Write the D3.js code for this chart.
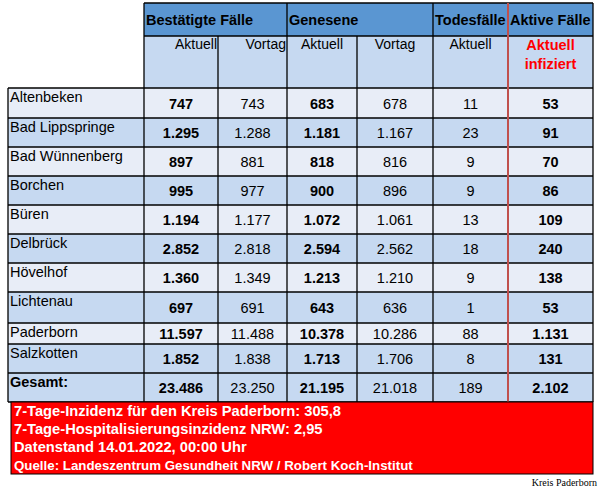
<!DOCTYPE html>
<html><head><meta charset="utf-8">
<script src="https://cdn.jsdelivr.net/npm/d3@7"></script>
<style>html,body{margin:0;padding:0;background:#fff}svg{display:block}</style>
</head><body>
<svg id="c" width="607" height="490"></svg>
<script>
// ---- data ----
const towns = ["Altenbeken","Bad Lippspringe","Bad Wünnenberg","Borchen","Büren","Delbrück","Hövelhof","Lichtenau","Paderborn","Salzkotten","Gesamt:"];
const confirmedNow  = [747,1295,897,995,1194,2852,1360,697,11597,1852,23486];
const confirmedPrev = [743,1288,881,977,1177,2818,1349,691,11488,1838,23250];
const recoveredNow  = [683,1181,818,900,1072,2594,1213,643,10378,1713,21195];
const recoveredPrev = [678,1167,816,896,1061,2562,1210,636,10286,1706,21018];
const deaths        = [11,23,9,9,13,18,9,1,88,8,189];
const activeNow     = [53,91,70,86,109,240,138,53,1131,131,2102];
const groupLabels = ["Bestätigte Fälle","Genesene","Todesfälle","Aktive Fälle"];
const subLabels = ["Aktuell","Vortag","Aktuell","Vortag","Aktuell"];
const activeSub = ["Aktuell","infiziert"];
const infoLines = ["7-Tage-Inzidenz für den Kreis Paderborn: 305,8","7-Tage-Hospitalisierungsinzidenz NRW: 2,95","Datenstand 14.01.2022, 00:00 Uhr","Quelle: Landeszentrum Gesundheit NRW / Robert Koch-Institut"];
const credit = "Kreis Paderborn";

// ---- layout ----
const colKeys = ["name","cNow","cPrev","rNow","rPrev","deaths","active","end"];
const colX = d3.scaleOrdinal().domain(colKeys).range([8,144,218,287,357,433,508,593]);
const rowEdges = [88,118,147,176,205,234,263,292,323,344,373,402];
const rowY = d3.scaleOrdinal().domain(d3.range(rowEdges.length)).range(rowEdges);
const C = {dark:"#5a96d2", mid:"#c6d9f1", light:"#e8edf7", red:"#c0504d"};
const fmt = d3.formatLocale({decimal:",",thousands:".",grouping:[3],currency:["","€"]}).format(",d");
const font = "'Liberation Sans', Arial, sans-serif";

const svg = d3.select("#c");
const cols = [
  {key:"cNow", vals:confirmedNow, bold:true},
  {key:"cPrev", vals:confirmedPrev, bold:false},
  {key:"rNow", vals:recoveredNow, bold:true},
  {key:"rPrev", vals:recoveredPrev, bold:false},
  {key:"deaths", vals:deaths, bold:false},
  {key:"active", vals:activeNow, bold:true}
];
const nextKey = k => colKeys[colKeys.indexOf(k)+1];
const X0 = colX("cNow"), X1 = colX("end");

// header backgrounds
svg.append("rect").attr("x",X0).attr("y",3).attr("width",X1-X0).attr("height",33).attr("fill",C.dark);
svg.append("rect").attr("x",X0).attr("y",36).attr("width",X1-X0).attr("height",rowY(0)-36).attr("fill",C.mid);

// body rows
const n = towns.length;
const rows = svg.append("g").selectAll("g").data(towns).join("g");
rows.append("rect")
  .attr("x",colX("name")).attr("y",(d,i)=>rowY(i))
  .attr("width",X1-colX("name")).attr("height",(d,i)=>rowY(i+1)-rowY(i))
  .attr("fill",(d,i)=> (i===n-1 || i%2===1) ? C.mid : C.light);
rows.append("text")
  .attr("x",colX("name")+2).attr("y",(d,i)=>rowY(i)+14)
  .attr("font-family",font).attr("font-size",14.5)
  .attr("font-weight",(d,i)=> i===n-1?"bold":"normal")
  .text(d=>d);
cols.forEach(c=>{
  const cx = (colX(c.key)+colX(nextKey(c.key)))/2;
  rows.append("text")
    .attr("x",cx).attr("y",(d,i)=>(rowY(i)+rowY(i+1))/2+5.5)
    .attr("text-anchor","middle").attr("font-family",font).attr("font-size",14.5)
    .attr("font-weight",c.bold?"bold":"normal")
    .text((d,i)=>fmt(c.vals[i]));
});

// grid lines
const lines = svg.append("g").attr("stroke","#000").attr("stroke-width",1.3);
d3.range(0,n+1).forEach(i=>{
  lines.append("line").attr("x1",colX("name")).attr("x2",X1).attr("y1",rowY(i)).attr("y2",rowY(i));
});
lines.append("line").attr("x1",X0).attr("x2",X1).attr("y1",3).attr("y2",3);
lines.append("line").attr("x1",X0).attr("x2",X1).attr("y1",36).attr("y2",36);
lines.append("line").attr("x1",colX("name")).attr("x2",colX("name")).attr("y1",rowY(0)).attr("y2",rowY(n));
[["cNow",3],["cPrev",36],["rNow",3],["rPrev",36],["deaths",3],["end",3]].forEach(([k,y0])=>{
  lines.append("line").attr("x1",colX(k)).attr("x2",colX(k)).attr("y1",y0).attr("y2",rowY(n));
});
svg.append("line").attr("x1",colX("active")).attr("x2",colX("active")).attr("y1",3).attr("y2",rowY(n))
  .attr("stroke",C.red).attr("stroke-width",2);

// header texts
const groupStart = ["cNow","rNow","deaths","active"];
groupLabels.forEach((g,i)=>{
  svg.append("text").attr("x",colX(groupStart[i])+2).attr("y",25)
    .attr("font-family",font).attr("font-size",14.5).attr("font-weight","bold").text(g);
});
const subAlign = [["cNow","end"],["cPrev","end"],["rNow","middle"],["rPrev","middle"],["deaths","middle"]];
subLabels.forEach((s,i)=>{
  const [k,a] = subAlign[i];
  const x = a==="end" ? colX(nextKey(k))-1 : (colX(k)+colX(nextKey(k)))/2;
  svg.append("text").attr("x",x).attr("y",49).attr("text-anchor",a)
    .attr("font-family",font).attr("font-size",14).text(s);
});
activeSub.forEach((s,i)=>{
  svg.append("text").attr("x",(colX("active")+X1)/2).attr("y",50+i*18.5).attr("text-anchor","middle")
    .attr("font-family",font).attr("font-size",14.5).attr("font-weight","bold").attr("fill","#ff0000").text(s);
});

// info box
svg.append("rect").attr("x",11).attr("y",rowY(n)).attr("width",X1-11).attr("height",474-rowY(n))
  .attr("fill","#ff0000").attr("stroke","#000").attr("stroke-width",1);
infoLines.forEach((t,i)=>{
  svg.append("text").attr("x",14).attr("y",416+i*18)
    .attr("font-family",font).attr("font-weight","bold").attr("fill","#fff")
    .attr("font-size", i===3?13.3:14.7).text(t);
});
svg.append("text").attr("x",597).attr("y",486).attr("text-anchor","end")
  .attr("font-family","'Liberation Serif','Times New Roman',serif").attr("font-size",10).text(credit);
</script>
</body></html>
